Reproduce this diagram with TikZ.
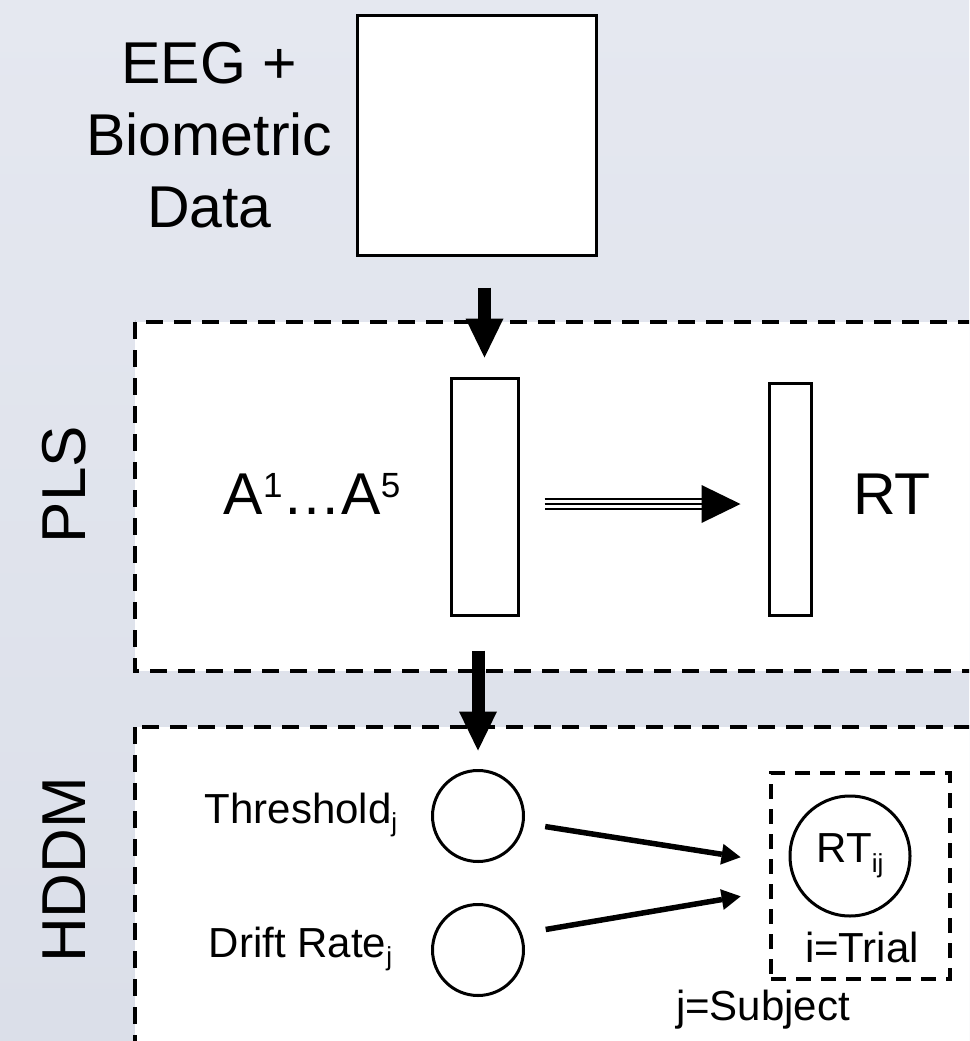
\documentclass[tikz,border=0pt]{standalone}
\usepackage{fontspec}
\setmainfont{Liberation Sans}
\usetikzlibrary{positioning,arrows.meta}
\definecolor{bgtop}{RGB}{229,232,240}
\definecolor{bgbot}{RGB}{219,223,233}
% small raised / lowered indices in the text font
\newcommand{\supr}[1]{\raisebox{17pt}{\fontsize{35}{35}\selectfont #1}}
\newcommand{\subr}[1]{\raisebox{-8pt}{\fontsize{26}{26}\selectfont #1}}
\newcommand{\subrs}[1]{\raisebox{-10pt}{\fontsize{26}{26}\selectfont #1}}

\begin{document}
\begin{tikzpicture}[x=1pt,y=-1pt,
  blk/.style={draw,line width=3pt,fill=white,inner sep=0pt},
  var/.style={circle,draw,line width=3pt,fill=white,inner sep=0pt,minimum size=91pt},
  panel/.style={draw,fill=white,line width=3.5pt,dash pattern=on 17pt off 11pt},
  lbl/.style={inner sep=0pt,font=\fontsize{42}{50}\selectfont},
  biglbl/.style={inner sep=0pt,font=\fontsize{59}{72}\selectfont},
  side/.style={inner sep=0pt,rotate=90,font=\fontsize{62}{62}\selectfont},
  fat/.style={line width=13pt,-{Triangle[length=39pt,width=38pt,line width=0pt]}},
  link/.style={line width=5.5pt,-{Triangle[length=19pt,width=21pt,line width=0pt]}}]
\useasboundingbox (0,0) rectangle (969,1041);
\clip (0,0) rectangle (969,1041);
\shade[top color=bgtop,bottom color=bgbot] (0,0) rectangle (969,1041);

% input data
\node[blk,minimum width=239pt,minimum height=239pt] (data) at (476.5,135.5) {};
\node[biglbl,align=center,left=23pt of data] (datalbl) {EEG +\\Biometric\\Data};

% PLS stage
\draw[panel] (135,322) rectangle (990,671);
\node[side] (plslbl) at (64,484.5) {PLS};
\node[blk,minimum width=67pt,minimum height=237pt] (xblk) at (484.5,496.5) {};
\node[blk,minimum width=42pt,minimum height=232pt] (yblk) at (790,499) {};
\node[biglbl,anchor=base] (xlbl) at (312,514) {A\supr{1}…A\supr{5}};
\node[biglbl,anchor=base west] (ylbl) at (853,514) {RT};
\coordinate (xa) at ([yshift=-7.5pt]xblk.east);
\coordinate (ya) at (xa -| yblk.west);
\draw[line width=2.3pt,double,double distance=7.7pt,shorten <=25pt,shorten >=47pt] (xa) -- (ya);
\draw[line width=2.3pt,shorten <=25pt,shorten >=47pt] (xa) -- (ya);
\draw[line width=1pt,-{Triangle[length=39pt,width=38pt,line width=0pt]},shorten <=170pt,shorten >=27pt] (xa) -- (ya);

% HDDM stage
\draw[panel] (135,727) rectangle (990,1060);
\node[side] (hddmlbl) at (64,870) {HDDM};
\node[var] (thr) at (478,816) {};
\node[var] (drift) at (478,950) {};
\node[lbl,anchor=base] (thrlbl) at (301,823) {Threshold\subr{j}};
\node[lbl,anchor=base] (driftlbl) at (300.5,957) {Drift Rate\subr{j}};
\node[draw,line width=3.5pt,dash pattern=on 15pt off 10pt,minimum width=179pt,minimum height=206pt] (plate) at (860.5,876) {};
\node[var,minimum size=120pt,font=\fontsize{42}{42}\selectfont] (rt) at (850,856) {RT\subrs{ij}};
\node[lbl,anchor=base] (triallbl) at (862,962) {i=Trial};
\node[lbl,anchor=base] (subjlbl) at (763,1020) {j=Subject};
\draw[link,shorten <=21pt,shorten >=29pt] (thr) -- (plate);
\draw[link,shorten <=21pt,shorten >=29pt] ([yshift=17pt]drift.east) -- (plate);

% flow between the stages
\draw[fat,shorten <=31pt,shorten >=19pt] (data.south -| xblk.north) -- (xblk.north);
\draw[fat,shorten <=34pt,shorten >=18.5pt] (xblk.south -| thr.north) -- (thr.north);
\end{tikzpicture}
\end{document}
